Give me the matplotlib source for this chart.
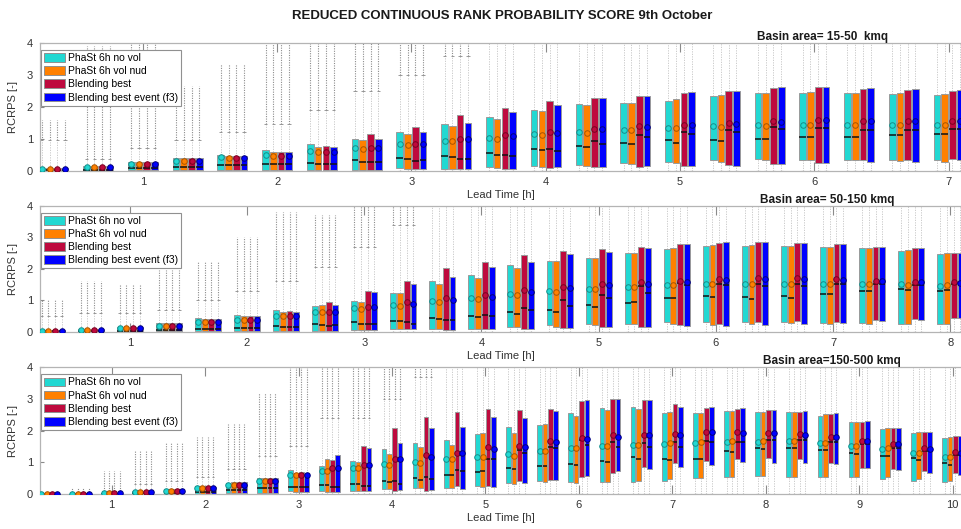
import numpy as np
import matplotlib
matplotlib.use("Agg")
import matplotlib.pyplot as plt
from matplotlib.patches import Rectangle, Patch

plt.rcParams['font.family'] = ['Liberation Sans', 'DejaVu Sans']

# ---------------- data ----------------
series_names = ['PhaSt 6h no vol', 'PhaSt 6h vol nud', 'Blending best', 'Blending best event (f3)']
colors = ['#22D8D2', '#FF8000', '#BE0A3E', '#0000FF']
mean_colors = ['#138E8A', '#A85400', '#78001F', '#00007A']
basin_titles = ['Basin area= 15-50  kmq', 'Basin area= 50-150 kmq', 'Basin area=150-500 kmq']
hour_labels = ['1', '2', '3', '4', '5', '6', '7', '8', '9', '10']

# Panel 1 (15-50 kmq), 21 lead times (every 20 min)
p1_q3 = [
    [0.07, 0.15, 0.27, 0.39, 0.50, 0.63, 0.82, 1.00, 1.22, 1.47, 1.68, 1.90, 2.08, 2.13, 2.19, 2.35, 2.42, 2.44, 2.42, 2.40, 2.37],
    [0.07, 0.15, 0.28, 0.39, 0.45, 0.58, 0.75, 0.95, 1.16, 1.40, 1.63, 1.87, 2.04, 2.13, 2.23, 2.37, 2.44, 2.47, 2.42, 2.42, 2.40],
    [0.07, 0.15, 0.27, 0.39, 0.45, 0.58, 0.78, 1.13, 1.38, 1.74, 1.97, 2.17, 2.29, 2.35, 2.44, 2.50, 2.58, 2.61, 2.56, 2.53, 2.48],
    [0.07, 0.15, 0.27, 0.39, 0.45, 0.58, 0.75, 1.00, 1.21, 1.50, 1.82, 2.06, 2.26, 2.34, 2.47, 2.50, 2.61, 2.63, 2.60, 2.55, 2.53],
]
p1_mean = [
    [0.05, 0.10, 0.20, 0.30, 0.42, 0.48, 0.60, 0.72, 0.82, 0.92, 1.03, 1.13, 1.21, 1.28, 1.34, 1.39, 1.43, 1.44, 1.44, 1.44, 1.44],
    [0.05, 0.10, 0.20, 0.30, 0.40, 0.46, 0.57, 0.69, 0.80, 0.92, 1.00, 1.10, 1.19, 1.26, 1.32, 1.37, 1.41, 1.44, 1.44, 1.44, 1.44],
    [0.05, 0.10, 0.20, 0.30, 0.40, 0.46, 0.59, 0.72, 0.84, 0.98, 1.10, 1.21, 1.30, 1.40, 1.44, 1.50, 1.55, 1.57, 1.56, 1.56, 1.55],
    [0.05, 0.10, 0.20, 0.30, 0.40, 0.46, 0.58, 0.72, 0.82, 0.98, 1.07, 1.19, 1.29, 1.37, 1.44, 1.47, 1.53, 1.57, 1.56, 1.56, 1.55],
]
p1_med = [
    [0.01, 0.03, 0.08, 0.12, 0.18, 0.19, 0.23, 0.32, 0.39, 0.45, 0.56, 0.68, 0.76, 0.87, 0.95, 0.97, 0.99, 1.05, 1.05, 1.10, 1.13],
    [0.01, 0.03, 0.08, 0.12, 0.17, 0.19, 0.21, 0.28, 0.36, 0.41, 0.50, 0.63, 0.74, 0.84, 0.87, 0.93, 0.99, 1.05, 1.04, 1.12, 1.13],
    [0.01, 0.03, 0.08, 0.12, 0.17, 0.19, 0.21, 0.28, 0.30, 0.37, 0.50, 0.66, 0.92, 1.10, 1.21, 1.26, 1.35, 1.34, 1.28, 1.28, 1.31],
    [0.01, 0.03, 0.08, 0.12, 0.17, 0.19, 0.21, 0.28, 0.32, 0.37, 0.46, 0.60, 0.82, 1.05, 1.16, 1.22, 1.31, 1.32, 1.28, 1.28, 1.31],
]
p1_q1 = [
    [0.0, 0.0, 0.01, 0.01, 0.01, 0.01, 0.02, 0.03, 0.07, 0.05, 0.10, 0.13, 0.18, 0.23, 0.26, 0.34, 0.35, 0.34, 0.34, 0.34, 0.32],
    [0.0, 0.0, 0.01, 0.01, 0.01, 0.01, 0.02, 0.03, 0.05, 0.05, 0.08, 0.10, 0.15, 0.19, 0.24, 0.28, 0.32, 0.34, 0.34, 0.29, 0.28],
    [0.0, 0.0, 0.01, 0.01, 0.01, 0.01, 0.02, 0.02, 0.04, 0.04, 0.05, 0.07, 0.10, 0.10, 0.13, 0.16, 0.19, 0.23, 0.32, 0.34, 0.36],
    [0.0, 0.0, 0.01, 0.01, 0.01, 0.01, 0.02, 0.02, 0.04, 0.04, 0.05, 0.10, 0.12, 0.13, 0.14, 0.15, 0.19, 0.23, 0.26, 0.28, 0.34],
]
p1_whisk = [0.95, 0.35, 0.70, 0.95, 1.20, 1.45, 1.90, 2.50, 3.00, 3.60, 4.5, 4.5, 4.5, 4.5, 4.5, 4.5, 4.5, 4.5, 4.5, 4.5, 4.5]
p1_outl = [1.60, 3.90, 4.50, 2.65, 3.35, 4.50, 4.50, 4.50, 4.50, 4.50, 4.5, 4.5, 4.5, 4.5, 4.5, 4.5, 4.5, 4.5, 4.5, 4.5, 4.5]

# Panel 2 (50-150 kmq), 24 lead times
p2_q3 = [
    [0.05, 0.10, 0.15, 0.29, 0.42, 0.53, 0.68, 0.81, 0.98, 1.24, 1.62, 1.81, 2.12, 2.24, 2.34, 2.49, 2.61, 2.72, 2.73, 2.72, 2.68, 2.65, 2.55, 2.47],
    [0.05, 0.10, 0.15, 0.29, 0.40, 0.51, 0.61, 0.84, 0.95, 1.22, 1.53, 1.71, 2.01, 2.24, 2.33, 2.49, 2.65, 2.75, 2.75, 2.73, 2.69, 2.65, 2.59, 2.49],
    [0.05, 0.10, 0.15, 0.29, 0.40, 0.51, 0.66, 0.93, 1.29, 1.62, 2.01, 2.20, 2.43, 2.56, 2.61, 2.68, 2.79, 2.83, 2.84, 2.80, 2.77, 2.69, 2.65, 2.49],
    [0.05, 0.10, 0.15, 0.29, 0.40, 0.51, 0.63, 0.86, 1.26, 1.51, 1.75, 2.04, 2.22, 2.47, 2.54, 2.65, 2.80, 2.84, 2.84, 2.80, 2.77, 2.70, 2.67, 2.49],
]
p2_mean = [
    [0.03, 0.06, 0.11, 0.18, 0.30, 0.38, 0.50, 0.62, 0.76, 0.85, 0.97, 1.07, 1.19, 1.28, 1.37, 1.41, 1.48, 1.50, 1.53, 1.53, 1.53, 1.51, 1.50, 1.46],
    [0.03, 0.06, 0.11, 0.18, 0.30, 0.38, 0.50, 0.62, 0.73, 0.83, 0.94, 1.05, 1.16, 1.26, 1.35, 1.41, 1.47, 1.50, 1.53, 1.53, 1.52, 1.51, 1.48, 1.48],
    [0.03, 0.06, 0.11, 0.18, 0.30, 0.38, 0.50, 0.62, 0.79, 0.93, 1.06, 1.16, 1.32, 1.41, 1.50, 1.57, 1.62, 1.67, 1.69, 1.69, 1.66, 1.60, 1.57, 1.57],
    [0.03, 0.06, 0.11, 0.18, 0.30, 0.38, 0.50, 0.62, 0.77, 0.88, 1.00, 1.11, 1.25, 1.38, 1.47, 1.51, 1.57, 1.64, 1.66, 1.67, 1.64, 1.60, 1.57, 1.55],
]
p2_med = [
    [0.01, 0.02, 0.02, 0.05, 0.10, 0.13, 0.19, 0.24, 0.30, 0.35, 0.42, 0.50, 0.62, 0.69, 0.84, 0.92, 1.07, 1.14, 1.10, 1.14, 1.19, 1.30, 1.34, 1.29],
    [0.01, 0.02, 0.02, 0.05, 0.10, 0.13, 0.15, 0.20, 0.26, 0.34, 0.40, 0.48, 0.56, 0.63, 0.79, 0.93, 1.06, 1.10, 1.04, 1.08, 1.21, 1.30, 1.31, 1.31],
    [0.01, 0.02, 0.02, 0.05, 0.10, 0.13, 0.15, 0.19, 0.24, 0.31, 0.37, 0.53, 0.74, 1.00, 1.15, 1.45, 1.56, 1.53, 1.50, 1.50, 1.50, 1.53, 1.48, 1.53],
    [0.01, 0.02, 0.02, 0.05, 0.10, 0.13, 0.15, 0.20, 0.23, 0.26, 0.37, 0.50, 0.69, 0.81, 1.06, 1.22, 1.48, 1.48, 1.46, 1.46, 1.50, 1.50, 1.48, 1.53],
]
p2_q1 = [
    [0.0, 0.0, 0.0, 0.01, 0.01, 0.01, 0.02, 0.03, 0.05, 0.07, 0.07, 0.10, 0.16, 0.20, 0.23, 0.26, 0.30, 0.30, 0.30, 0.30, 0.29, 0.28, 0.25, 0.26],
    [0.0, 0.0, 0.0, 0.01, 0.01, 0.01, 0.02, 0.03, 0.05, 0.07, 0.07, 0.07, 0.14, 0.16, 0.20, 0.23, 0.23, 0.21, 0.25, 0.28, 0.23, 0.23, 0.23, 0.23],
    [0.0, 0.0, 0.0, 0.01, 0.01, 0.01, 0.02, 0.03, 0.05, 0.07, 0.05, 0.07, 0.10, 0.11, 0.14, 0.15, 0.20, 0.23, 0.32, 0.34, 0.32, 0.37, 0.39, 0.44],
    [0.0, 0.0, 0.0, 0.01, 0.01, 0.01, 0.02, 0.03, 0.05, 0.07, 0.05, 0.07, 0.10, 0.11, 0.14, 0.14, 0.19, 0.18, 0.21, 0.23, 0.29, 0.34, 0.36, 0.44],
]
p2_whisk = [0.50, 0.60, 0.60, 0.70, 1.00, 1.29, 1.60, 2.05, 2.70, 3.40] + [4.5] * 14
p2_outl = [1.00, 1.60, 1.50, 1.95, 2.20, 3.00, 3.80, 3.70, 4.50, 4.50] + [4.5] * 14

# Panel 3 (150-500 kmq), 30 lead times
p3_q3 = [
    [0.01, 0.02, 0.04, 0.10, 0.17, 0.25, 0.36, 0.52, 0.76, 0.88, 1.04, 1.41, 1.62, 1.70, 1.89, 2.10, 2.17, 2.57, 2.70, 2.74, 2.57, 2.55, 2.61, 2.58, 2.58, 2.46, 2.26, 2.05, 1.94, 1.78],
    [0.01, 0.02, 0.04, 0.10, 0.17, 0.23, 0.38, 0.52, 0.65, 1.10, 1.01, 1.26, 1.47, 1.55, 1.94, 1.94, 2.20, 2.46, 2.65, 2.67, 2.58, 2.55, 2.63, 2.58, 2.60, 2.52, 2.26, 2.07, 1.95, 1.81],
    [0.01, 0.02, 0.04, 0.10, 0.17, 0.23, 0.38, 0.52, 0.71, 1.07, 1.52, 2.08, 2.42, 2.60, 2.68, 2.65, 2.68, 2.95, 2.99, 2.97, 2.84, 2.70, 2.69, 2.65, 2.60, 2.52, 2.28, 2.07, 1.95, 1.83],
    [0.01, 0.02, 0.04, 0.10, 0.17, 0.23, 0.38, 0.52, 0.65, 1.23, 1.44, 1.62, 2.09, 2.13, 2.44, 2.39, 2.63, 2.97, 3.00, 2.97, 2.76, 2.74, 2.73, 2.65, 2.62, 2.55, 2.31, 2.09, 1.97, 1.84],
]
p3_mean = [
    [0.005, 0.01, 0.03, 0.07, 0.10, 0.18, 0.28, 0.42, 0.60, 0.73, 0.83, 0.94, 1.00, 1.09, 1.16, 1.25, 1.37, 1.44, 1.52, 1.55, 1.58, 1.60, 1.63, 1.65, 1.67, 1.60, 1.53, 1.42, 1.31, 1.18],
    [0.005, 0.01, 0.03, 0.07, 0.10, 0.18, 0.28, 0.42, 0.60, 0.73, 0.83, 0.90, 0.99, 1.09, 1.16, 1.20, 1.37, 1.44, 1.52, 1.55, 1.60, 1.63, 1.67, 1.68, 1.67, 1.60, 1.53, 1.44, 1.31, 1.18],
    [0.005, 0.01, 0.03, 0.07, 0.10, 0.18, 0.28, 0.42, 0.60, 0.81, 0.90, 1.10, 1.23, 1.28, 1.47, 1.52, 1.68, 1.76, 1.86, 1.86, 1.89, 1.95, 1.95, 1.94, 1.89, 1.81, 1.67, 1.57, 1.44, 1.34],
    [0.005, 0.01, 0.03, 0.07, 0.10, 0.18, 0.28, 0.42, 0.60, 0.81, 0.90, 1.09, 1.16, 1.28, 1.41, 1.49, 1.65, 1.73, 1.81, 1.86, 1.86, 1.95, 1.92, 1.92, 1.86, 1.81, 1.67, 1.57, 1.42, 1.31],
]
p3_med = [
    [0.0, 0.005, 0.01, 0.02, 0.03, 0.05, 0.13, 0.18, 0.23, 0.28, 0.32, 0.42, 0.49, 0.60, 0.68, 0.81, 0.88, 0.95, 1.05, 1.16, 1.09, 1.10, 1.37, 1.44, 1.44, 1.39, 1.31, 1.21, 1.13, 0.97],
    [0.0, 0.005, 0.01, 0.02, 0.03, 0.05, 0.13, 0.18, 0.21, 0.27, 0.31, 0.38, 0.44, 0.60, 0.74, 0.78, 0.88, 0.93, 1.01, 1.09, 1.07, 1.10, 1.34, 1.42, 1.44, 1.39, 1.27, 1.20, 1.07, 0.92],
    [0.0, 0.005, 0.01, 0.02, 0.03, 0.05, 0.13, 0.18, 0.21, 0.21, 0.26, 0.40, 0.53, 0.76, 1.09, 1.39, 1.47, 1.70, 1.65, 1.62, 1.65, 1.68, 1.65, 1.71, 1.71, 1.65, 1.58, 1.46, 1.37, 1.23],
    [0.0, 0.005, 0.01, 0.02, 0.03, 0.05, 0.13, 0.18, 0.21, 0.21, 0.25, 0.32, 0.47, 0.74, 1.09, 1.28, 1.44, 1.54, 1.49, 1.47, 1.47, 1.65, 1.65, 1.71, 1.71, 1.65, 1.57, 1.46, 1.37, 1.23],
]
p3_q1 = [
    [0.0, 0.0, 0.0, 0.01, 0.01, 0.01, 0.03, 0.04, 0.09, 0.09, 0.10, 0.16, 0.18, 0.19, 0.25, 0.36, 0.40, 0.37, 0.37, 0.37, 0.42, 0.49, 0.53, 0.57, 0.55, 0.55, 0.53, 0.46, 0.42, 0.39],
    [0.0, 0.0, 0.0, 0.01, 0.01, 0.01, 0.03, 0.04, 0.06, 0.07, 0.10, 0.15, 0.18, 0.19, 0.23, 0.32, 0.39, 0.34, 0.37, 0.42, 0.47, 0.49, 0.53, 0.57, 0.55, 0.55, 0.53, 0.53, 0.47, 0.42],
    [0.0, 0.0, 0.0, 0.01, 0.01, 0.01, 0.03, 0.04, 0.06, 0.05, 0.08, 0.08, 0.10, 0.25, 0.25, 0.42, 0.44, 0.55, 0.67, 0.84, 0.97, 1.05, 1.09, 1.13, 1.11, 0.97, 0.82, 0.78, 0.73, 0.65],
    [0.0, 0.0, 0.0, 0.01, 0.01, 0.01, 0.03, 0.04, 0.06, 0.05, 0.08, 0.13, 0.13, 0.17, 0.23, 0.36, 0.44, 0.57, 0.74, 0.78, 0.86, 0.91, 1.00, 0.97, 0.99, 0.94, 0.81, 0.76, 0.67, 0.60],
]
p3_whisk = [0.02, 0.05, 0.10, 0.30, 0.40, 0.55, 0.80, 1.20, 1.50, 2.40, 2.40, 3.00, 3.70] + [4.5] * 17
p3_outl = [0.03, 0.18, 0.73, 1.40, 1.65, 1.80, 2.20, 3.20, 4.50, 4.50, 4.50, 4.50, 4.50] + [4.5] * 17

panels = [
    dict(q3=p1_q3, mean=p1_mean, med=p1_med, q1=p1_q1, wh=p1_whisk, ol=p1_outl, title=basin_titles[0]),
    dict(q3=p2_q3, mean=p2_mean, med=p2_med, q1=p2_q1, wh=p2_whisk, ol=p2_outl, title=basin_titles[1]),
    dict(q3=p3_q3, mean=p3_mean, med=p3_med, q1=p3_q1, wh=p3_whisk, ol=p3_outl, title=basin_titles[2]),
]

# ---------------- layout ----------------
W, H = 962, 529
fig = plt.figure(figsize=(W / 100, H / 100), dpi=100)
fig.patch.set_facecolor('white')

ax_px = [(43.0, 170.5), (205.7, 331.7), (367.3, 494.0)]   # top, bottom pixel rows
title_xc = [823, 827, 832]
left_px, right_px = 40, 962
offsets = [-0.26, -0.087, 0.087, 0.26]
bw = 0.15
spine_col = '#b4b4b4'

fig.text(502 / W, 1 - 16 / H, 'REDUCED CONTINUOUS RANK PROBABILITY SCORE 9th October',
         ha='center', va='center', fontsize=9.5, fontweight='bold', color='#1a1a1a')

for pi, (p, (tp, bt)) in enumerate(zip(panels, ax_px)):
    ax = fig.add_axes([left_px / W, 1 - bt / H, (right_px - left_px) / W, (bt - tp) / H])
    n = len(p['wh'])
    for s in range(4):
        for k in range(n):
            x = k + 1 + offsets[s]
            q1 = p['q1'][s][k]; q3 = p['q3'][s][k]
            md = p['med'][s][k]; mn = p['mean'][s][k]
            wh = p['wh'][k]; ol = p['ol'][k]
            # whiskers
            ax.vlines(x, q3, min(wh, 4.3), colors='#c4c4c4', linestyles=(0, (1.5, 1.5)), lw=0.6, zorder=1)
            ax.vlines(x, 0, q1, colors='#c4c4c4', linestyles=(0, (1.5, 1.5)), lw=0.6, zorder=1)
            if ol > wh:
                ax.vlines(x, wh, ol, colors='#8c8c8c', linestyles=(0, (1, 1.2)), lw=0.8, zorder=1)
            if wh < 4:
                ax.hlines(wh, x - bw * 0.25, x + bw * 0.25, colors='#8a8a8a', lw=0.6, zorder=1)
            ax.hlines(0.0, x - bw * 0.25, x + bw * 0.25, colors='#5a5a5a', lw=0.8, zorder=1)
            # box
            ax.add_patch(Rectangle((x - bw / 2, q1), bw, max(q3 - q1, 0.004),
                                   facecolor=colors[s], edgecolor='#9a9a9a', lw=0.7, zorder=2))
            ax.hlines(md, x - bw / 2, x + bw / 2, colors='#111111', lw=1.1, zorder=3)
            ax.plot([x], [mn], marker='o', ms=4.0, mfc=colors[s], mec=mean_colors[s], mew=0.7,
                    ls='none', zorder=4)

    ax.set_xlim(0.7, n + 0.3)
    ax.set_ylim(0, 4)
    hours = n // 3
    ax.set_xticks([3 * (h + 1) for h in range(hours)])
    ax.set_xticklabels(hour_labels[:hours])
    ax.set_yticks([0, 1, 2, 3, 4])
    ax.tick_params(axis='x', direction='in', length=6.5, width=0.8, color='#8a8a8a',
                   top=True, bottom=True, labelsize=8, labelcolor='#333333', pad=4.5)
    ax.tick_params(axis='y', direction='in', length=3, width=0.8, color='#8a8a8a',
                   left=True, right=False, labelsize=8, labelcolor='#333333', pad=5)
    for sp in ax.spines.values():
        sp.set_color(spine_col)
        sp.set_linewidth(0.9)
    ax.set_xlabel('Lead Time [h]', fontsize=8, color='#333333', labelpad=2)
    ax.set_ylabel('RCRPS [-]', fontsize=8, color='#333333', labelpad=6)
    ax.text((title_xc[pi] - left_px) / (right_px - left_px), 1 + 6 / (bt - tp), p['title'],
            transform=ax.transAxes, ha='center', va='center', fontsize=8.5,
            fontweight='bold', color='#1a1a1a')
    handles = [Patch(facecolor=c, edgecolor='#909090', lw=0.7) for c in colors]
    leg = ax.legend(handles, series_names, loc='upper left',
                    bbox_to_anchor=(0.001, 1 - 7 / (bt - tp)), borderaxespad=0,
                    fontsize=7.5, frameon=True, fancybox=False, framealpha=1,
                    edgecolor='#909090', handlelength=2.0, handleheight=0.9,
                    handletextpad=0.3, labelspacing=0.3, borderpad=0.3)
    leg.get_frame().set_linewidth(0.8)
    leg.set_zorder(10)

fig.savefig('out.png', dpi=100, facecolor='white')
